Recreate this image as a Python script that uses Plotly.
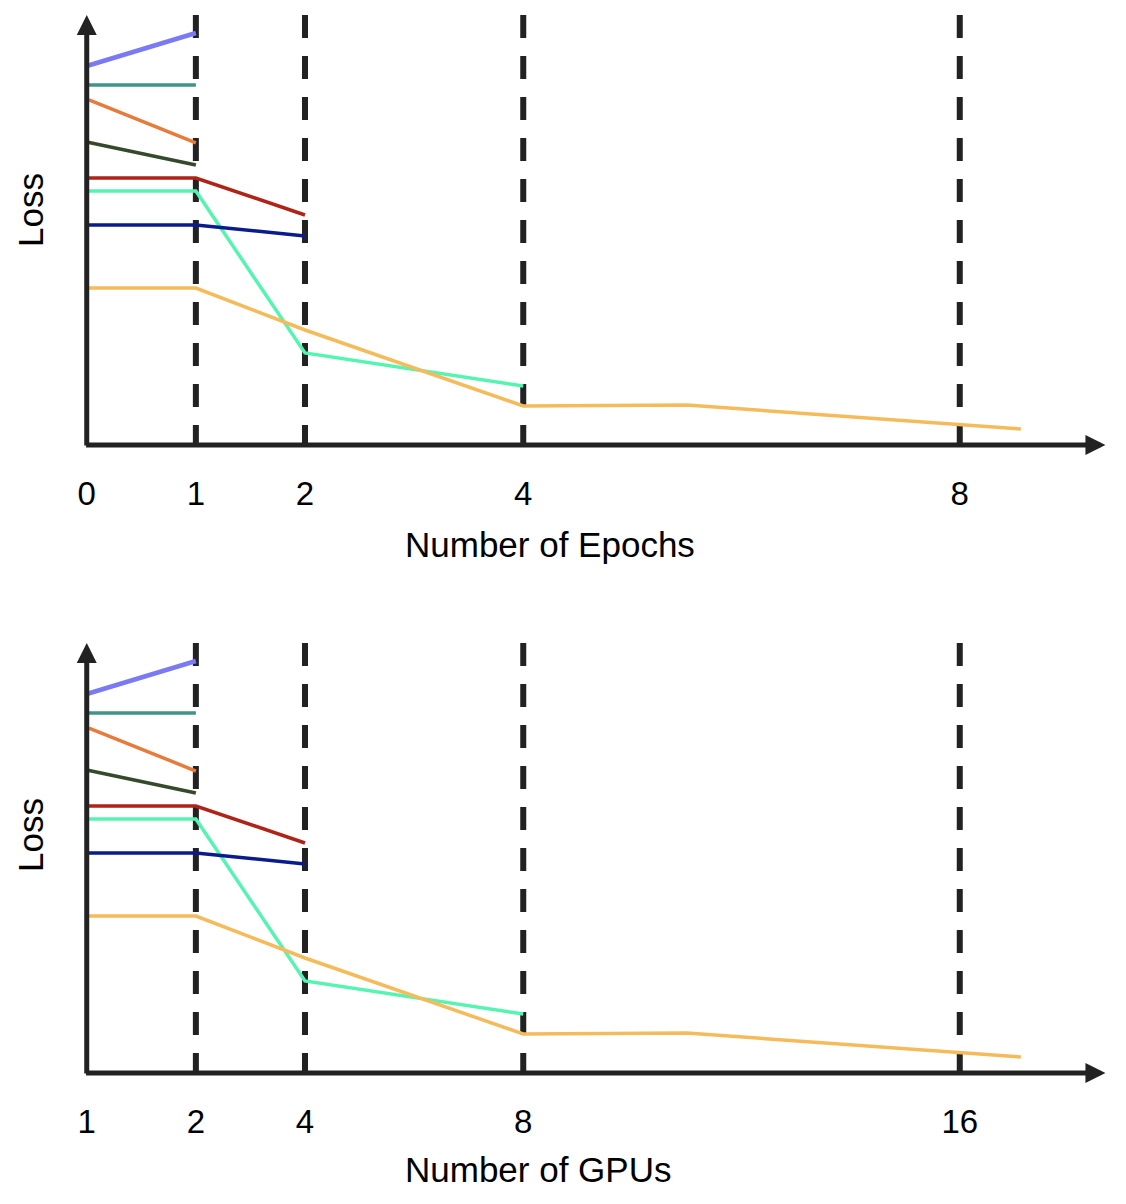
import plotly.graph_objects as go

# x positions (in epochs) shared by both panels; bottom panel relabels them as GPU counts
tick_pos = [0, 1, 2, 4, 8]
epoch_labels = ["0", "1", "2", "4", "8"]
gpu_labels = ["1", "2", "4", "8", "16"]
dash_pos = [1, 2, 4, 8]

purple_x = [0, 1]
purple_y = [37.9, 41.2]
teal_x = [0, 1]
teal_y = [36.0, 36.0]
orange_x = [0.02, 1]
orange_y = [34.5, 30.2]
green_x = [0, 1]
green_y = [30.3, 28.0]
red_x = [0, 1, 2]
red_y = [26.7, 26.7, 23.0]
mint_x = [0, 1, 2, 4]
mint_y = [25.4, 25.4, 9.2, 5.9]
navy_x = [0, 1, 2]
navy_y = [22.0, 22.0, 20.9]
yellow_x = [0, 1, 2, 4, 5.5, 8.56]
yellow_y = [15.7, 15.7, 11.5, 3.9, 4.0, 1.6]

series = [
    (purple_x, purple_y, "#7a7af2", 4.5),
    (teal_x, teal_y, "#3d9487", 3.5),
    (orange_x, orange_y, "#e87b3c", 3.5),
    (green_x, green_y, "#354a2a", 3.5),
    (red_x, red_y, "#b02418", 3.5),
    (mint_x, mint_y, "#55f5b1", 3.5),
    (navy_x, navy_y, "#0a1c8c", 3.5),
    (yellow_x, yellow_y, "#f5bb5a", 3.5),
]

FONT = "Liberation Sans, Arial, sans-serif"
AX = "#222222"

fig = go.Figure()

# (x axis, y axis, x title, title x/y in paper, "Loss" y in paper)
panels = [("x", "y", "Number of Epochs", 0.4662, 0.5540, 0.8322),
          ("x2", "y2", "Number of GPUs", 0.4549, 0.0349, 0.3131)]

notes = []
for xa, ya, xtitle, tx, ty, ly in panels:
    for p in dash_pos:
        fig.add_trace(go.Scatter(
            x=[p, p], y=[43, 0], mode="lines", xaxis=xa, yaxis=ya,
            line=dict(color=AX, width=6, dash="23px,18px"),
            showlegend=False, hoverinfo="skip"))
    for sx, sy, col, w in series:
        fig.add_trace(go.Scatter(
            x=sx, y=sy, mode="lines", xaxis=xa, yaxis=ya,
            line=dict(color=col, width=w), showlegend=False))

    # axis lines with arrow heads
    notes.append(dict(x=0, y=43, ax=0, ay=-0.2, xref=xa, yref=ya, axref=xa, ayref=ya,
                      text="", showarrow=True, arrowhead=2, arrowsize=0.8,
                      arrowwidth=5, arrowcolor=AX))
    notes.append(dict(x=9.335, y=0, ax=-0.02, ay=0, xref=xa, yref=ya, axref=xa, ayref=ya,
                      text="", showarrow=True, arrowhead=2, arrowsize=0.8,
                      arrowwidth=5, arrowcolor=AX))
    # titles
    notes.append(dict(x=tx, y=ty, xref="paper", yref="paper", text=xtitle,
                      xanchor="center", yanchor="middle",
                      showarrow=False, font=dict(size=35, color="black")))
    notes.append(dict(x=-0.0226, y=ly, xref="paper", yref="paper", text="Loss",
                      xanchor="center", yanchor="middle",
                      showarrow=False, textangle=-90, font=dict(size=35, color="black")))

xcommon = dict(range=[-0.3, 9.45], showgrid=False, zeroline=False, showline=False,
               ticks="", tickvals=tick_pos, tickfont=dict(size=33, color="black"),
               ticklabelstandoff=6)
ycommon = dict(range=[-2, 43.5], showgrid=False, zeroline=False, showline=False,
               showticklabels=False, ticks="")

fig.update_layout(
    width=1126, height=1204,
    margin=dict(l=46, r=16, t=0, b=0),
    paper_bgcolor="white", plot_bgcolor="white",
    font=dict(family=FONT, color="black"),
    xaxis=dict(xcommon, anchor="y", domain=[0, 1], ticktext=epoch_labels),
    yaxis=dict(ycommon, anchor="x", domain=[0.62043, 0.99834]),
    xaxis2=dict(xcommon, anchor="y2", domain=[0, 1], ticktext=gpu_labels),
    yaxis2=dict(ycommon, anchor="x2", domain=[0.09884, 0.47674]),
    annotations=notes,
)

fig.write_html("out.html")
